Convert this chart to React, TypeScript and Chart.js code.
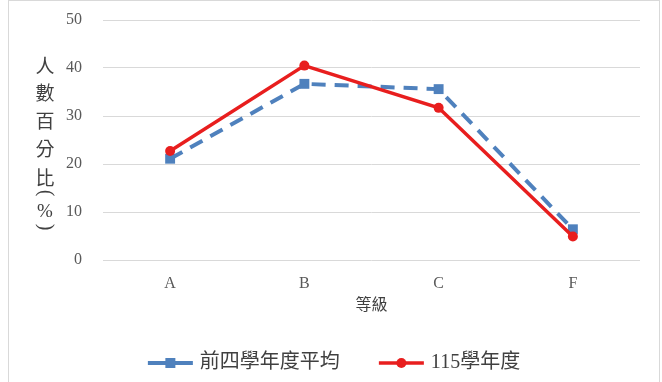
import React, { useEffect, useRef } from "react";
import { Chart, registerables } from "chart.js";

Chart.register(...registerables);

// ---- data ----
const categories = ["A", "B", "C", "F"];
const seriesNames = ["前四學年度平均", "115學年度"];
const prevAvgValues = [21.1, 36.7, 35.6, 6.4];
const currentValues = [22.7, 40.5, 31.7, 4.9];
const yMin = 0;
const yMax = 50;
const yStep = 10;
const xTitle = "等級";
const yTitleParts = ["人", "數", "百", "分", "比", "(", "%", ")"];

// ---- styles ----
const BLUE = "#4f81bd";
const RED = "#e81e1e";
const TEXT = "#404040";
const TICK = "#595959";
const GRID = "#d9d9d9";
const SERIF_CJK = "'Liberation Serif', 'Noto Sans CJK TC'";

const framePlugin = {
  id: "frame",
  beforeDraw(chart: any) {
    const ctx = chart.ctx;
    ctx.save();
    ctx.fillStyle = "#ffffff";
    ctx.fillRect(0, 0, chart.width, chart.height);
    ctx.strokeStyle = GRID;
    ctx.lineWidth = 1;
    ctx.strokeRect(8.5, 0.5, 651, chart.height + 10);
    ctx.restore();
  },
};

const titlesPlugin = {
  id: "titles",
  afterDraw(chart: any) {
    const ctx = chart.ctx;
    const area = chart.chartArea;
    ctx.save();
    ctx.fillStyle = TEXT;
    ctx.textAlign = "center";
    ctx.textBaseline = "middle";

    // x title
    ctx.font = `16px ${SERIF_CJK}`;
    ctx.fillText(xTitle, (area.left + area.right) / 2, area.bottom + 46);

    // y title (vertical stacked)
    const cx = area.left - 58;
    let y = area.top + 46;
    const steps = [27, 28, 28, 29, 15, 19, 15, 0];
    yTitleParts.forEach((p, i) => {
      if (p === "(" || p === ")") {
        ctx.save();
        ctx.translate(cx, y);
        ctx.rotate(Math.PI / 2);
        ctx.font = `20px 'Liberation Serif'`;
        ctx.fillText(p, 0, 0);
        ctx.restore();
      } else if (p === "%") {
        ctx.font = `19px 'Liberation Serif'`;
        ctx.fillText(p, cx, y);
      } else {
        ctx.font = `19px 'Noto Sans CJK TC'`;
        ctx.fillText(p, cx, y);
      }
      y += steps[i];
    });
    ctx.restore();
  },
};

const legendPlugin = {
  id: "customLegend",
  afterDraw(chart: any) {
    const ctx = chart.ctx;
    ctx.save();
    ctx.font = `20px ${SERIF_CJK}`;
    const lineLen = 45;
    const textGap = 7;
    const itemGap = 39;
    const datasets = chart.data.datasets;
    const widths = datasets.map(
      (ds: any) => lineLen + textGap + ctx.measureText(ds.label).width
    );
    const total =
      widths.reduce((a: number, b: number) => a + b, 0) +
      itemGap * (datasets.length - 1);
    let x = 334 - total / 2;
    const y = 363;
    datasets.forEach((ds: any, i: number) => {
      ctx.strokeStyle = ds.borderColor;
      ctx.lineWidth = ds.borderWidth;
      ctx.setLineDash([]);
      ctx.beginPath();
      ctx.moveTo(x, y);
      ctx.lineTo(x + lineLen, y);
      ctx.stroke();
      const mx = x + lineLen / 2;
      ctx.fillStyle = ds.pointBackgroundColor;
      if (ds.pointStyle === "rect") {
        ctx.fillRect(mx - 5, y - 5, 10, 10);
      } else {
        ctx.beginPath();
        ctx.arc(mx, y, 5, 0, Math.PI * 2);
        ctx.fill();
      }
      ctx.fillStyle = TEXT;
      ctx.textAlign = "left";
      ctx.textBaseline = "middle";
      ctx.fillText(ds.label, x + lineLen + textGap, y);
      x += widths[i] + itemGap;
    });
    ctx.restore();
  },
};

export default function App() {
  const canvasRef = useRef<HTMLCanvasElement | null>(null);

  useEffect(() => {
    const canvas = canvasRef.current;
    if (!canvas) return;
    const chart = new Chart(canvas, {
      type: "line",
      data: {
        labels: categories,
        datasets: [
          {
            label: seriesNames[0],
            data: prevAvgValues,
            borderColor: BLUE,
            backgroundColor: BLUE,
            pointBackgroundColor: BLUE,
            pointBorderColor: BLUE,
            borderWidth: 4,
            borderDash: [14, 9],
            borderCapStyle: "butt",
            pointStyle: "rect",
            pointRadius: 7,
            pointBorderWidth: 0,
            tension: 0,
            fill: false,
            order: 1,
          },
          {
            label: seriesNames[1],
            data: currentValues,
            borderColor: RED,
            backgroundColor: RED,
            pointBackgroundColor: RED,
            pointBorderColor: RED,
            borderWidth: 3.5,
            pointStyle: "circle",
            pointRadius: 5,
            pointBorderWidth: 0,
            tension: 0,
            fill: false,
            order: 0,
          },
        ],
      },
      options: {
        responsive: false,
        animation: false,
        devicePixelRatio: 1,
        layout: { padding: { left: 0, top: 20, right: 22, bottom: 0 } },
        plugins: {
          legend: { display: false },
          tooltip: { enabled: false },
          title: { display: false },
        },
        scales: {
          x: {
            offset: true,
            grid: { display: false, drawTicks: false },
            border: { display: false },
            ticks: {
              padding: 14,
              color: TICK,
              font: { family: SERIF_CJK, size: 16 },
            },
            afterFit(scale: any) {
              scale.height = 122;
              scale.paddingLeft = 0;
              scale.paddingRight = 0;
            },
          },
          y: {
            min: yMin,
            max: yMax,
            grid: { color: GRID, lineWidth: 1, drawTicks: false },
            border: { display: false },
            ticks: {
              stepSize: yStep,
              padding: 21,
              color: TICK,
              font: { family: SERIF_CJK, size: 16 },
            },
            afterFit(scale: any) {
              scale.width = 103;
              scale.paddingTop = 0;
              scale.paddingBottom = 0;
            },
          },
        },
      },
      plugins: [framePlugin, titlesPlugin, legendPlugin],
    });
    return () => chart.destroy();
  }, []);

  return (
    <div style={{ position: "absolute", left: 0, top: 0, width: 662, height: 382 }}>
      <canvas ref={canvasRef} width={662} height={382} style={{ display: "block" }} />
    </div>
  );
}
